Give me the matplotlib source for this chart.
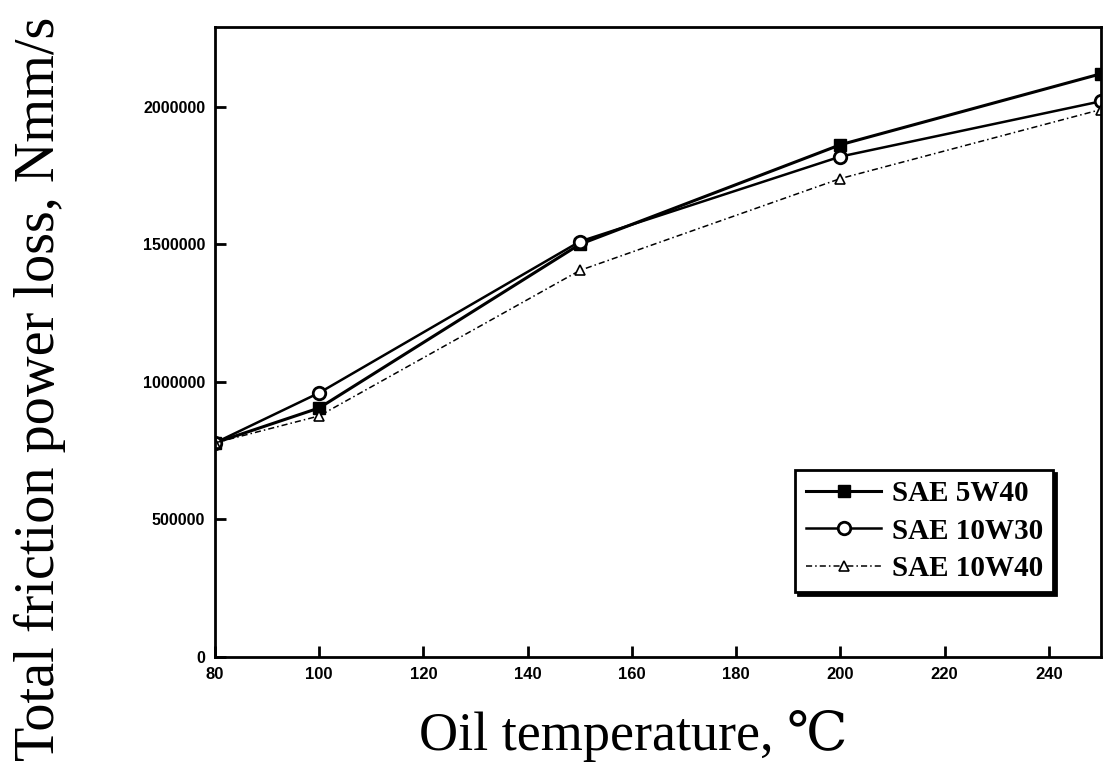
import matplotlib
matplotlib.use("Agg")
import matplotlib.pyplot as plt

# oil temperature (deg C) and total friction power loss (Nmm/s)
temp = [80, 100, 150, 200, 250]
sae_5w40 = [778000, 905000, 1500000, 1862000, 2120000]
sae_10w30 = [778000, 960000, 1510000, 1819000, 2020000]
sae_10w40 = [778000, 876000, 1405000, 1739000, 1990000]

xticks = [80, 100, 120, 140, 160, 180, 200, 220, 240]
yticks = [0, 500000, 1000000, 1500000, 2000000]

serif = ['Liberation Serif', 'DejaVu Serif']
sans_b = ['Liberation Sans', 'DejaVu Sans']

fig = plt.figure(figsize=(11.1, 7.81), dpi=100)
ax = fig.add_axes([0.1937, 0.159, 0.7982, 0.8064])

ax.plot(temp, sae_5w40, color='k', lw=2.2, marker='s', ms=8, mfc='k',
        label='SAE 5W40')
ax.plot(temp, sae_10w30, color='k', lw=1.8, marker='o', ms=9, mfc='white',
        mew=2, label='SAE 10W30')
ax.plot(temp, sae_10w40, color='k', lw=1.1, marker='^', ms=7, mfc='white',
        mew=1.2, dashes=(4, 2, 1, 2), label='SAE 10W40')

ax.set_xlim(80, 250)
ax.set_ylim(0, 2290000)
ax.set_xticks(xticks)
ax.set_yticks(yticks)
ax.set_xticklabels([str(v) for v in xticks], family=sans_b, fontweight='bold', fontsize=12)
ax.set_yticklabels([str(v) for v in yticks], family=sans_b, fontweight='bold', fontsize=11.5)
ax.tick_params(direction='in', length=8, width=2, pad=7)
for s in ax.spines.values():
    s.set_linewidth(2)

ax.set_ylabel('Total friction power loss, Nmm/s', family=serif, fontsize=40.5)
ax.yaxis.set_label_coords(-0.168, 0.425)
ax.set_xlabel('Oil temperature, \u2103', family=serif, fontsize=39)
ax.xaxis.set_label_coords(0.472, -0.085)

leg = ax.legend(loc='lower right', bbox_to_anchor=(0.946, 0.103), borderaxespad=0,
                prop={'family': serif, 'weight': 'bold', 'size': 21},
                fancybox=False, edgecolor='k', framealpha=1, handlelength=2.6,
                labelspacing=0.35, borderpad=0.35, handletextpad=0.35,
                shadow={'fc': 'k', 'ec': 'k', 'alpha': 1})
leg.get_frame().set_linewidth(2)

fig.savefig('out.png', dpi=100)
